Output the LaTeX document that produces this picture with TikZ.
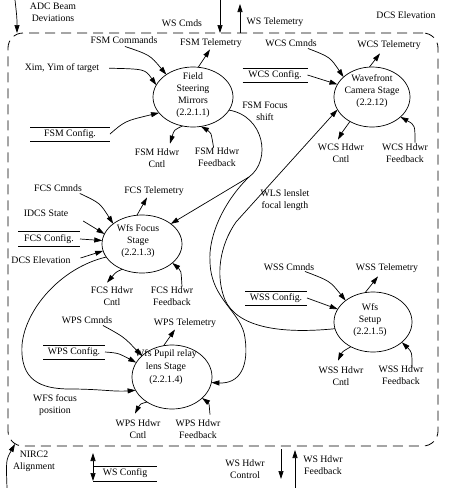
\documentclass[tikz,border=0pt]{standalone}
\usepackage{fontspec}
\setmainfont{Liberation Serif}
\usetikzlibrary{arrows.meta,shapes.geometric,calc}
\begin{document}
\begin{tikzpicture}[x=1pt,y=-1pt,
  every node/.style={font=\fontsize{9.8}{11.8}\selectfont, inner sep=0pt, outer sep=0pt, align=center},
  proc/.style={ellipse, draw, line width=0.7pt},
  store/.style={minimum height=14pt},
  arr/.style={-{Triangle[length=8pt,width=5pt]}, line width=0.7pt},
  dbl/.style={{Triangle[length=8pt,width=5pt]}-{Triangle[length=8pt,width=5pt]}, line width=0.7pt},
  ln/.style={line width=0.7pt},
  bnd/.style={draw, dash pattern=on 10pt off 6pt, line width=0.8pt, rounded corners=15pt}
]
\useasboundingbox (0,0) rectangle (449,488);
\node[bnd, minimum width=430pt, minimum height=413pt] (ws) at (223,239.5) {};

% outside
\node (adc) at (53,12) {ADC Beam\\Deviations};
\node (wscmds) at (182,23) {WS Cmds};
\node (wstel) at (275,22) {WS Telemetry};
\node (dcstop) at (406,15) {DCS Elevation};
\node (nirc) at (34,461) {NIRC2\\Alignment};
\node[minimum width=64pt, minimum height=15pt] (wscfg) at (125,473.5) {WS Config};
\draw[ln] (wscfg.north west) -- (wscfg.north east) (wscfg.south west) -- (wscfg.south east);
\node (wshc) at (245,469) {WS Hdwr\\Control};
\node (wshf) at (323,465) {WS Hdwr\\Feedback};

\coordinate (adcsrc) at (15,0);
\draw[arr] (adcsrc) .. controls (17,18) .. ($(ws.north west)+(9,0)$);
\coordinate (wscsrc) at (220,0);
\draw[arr] (wscsrc) -- (wscsrc |- ws.north);
\coordinate (wstdst) at (240,4);
\draw[arr] (wstdst |- ws.north) -- (wstdst);
\coordinate (nircsrc) at (7,488);
\draw[arr] (nircsrc) .. controls (6,460) .. ($(ws.south west)+(7,-2)$);
\draw[dbl] ($(wscfg.north west)+(0,-13)$) -- (wscfg.south west);
\coordinate (whcsrc) at (281,449);
\coordinate (whcdst) at (281,479);
\draw[arr] (whcsrc) -- (whcdst);
\coordinate (whfsrc) at (295,488);
\coordinate (whfdst) at (295,450);
\draw[arr] (whfsrc) -- (whfdst);

% processes
\node[proc, minimum width=80pt, minimum height=60pt] (fsm) at (193,97) {};
\node (fsmt) at (193,95) {Field\\Steering\\Mirrors\\(2.2.1.1)};
\node[proc, minimum width=76pt, minimum height=60pt] (wcs) at (372,97) {};
\node (wcst) at (372,91) {Wavefront\\Camera Stage\\(2.2.12)};
\node[proc, minimum width=80pt, minimum height=58pt] (fcs) at (142,244) {};
\node (fcst) at (138,241) {Wfs Focus\\Stage\\(2.2.1.3)};
\node[proc, minimum width=80pt, minimum height=64pt] (wps) at (172,377) {};
\node (wpst) at (166,367) {Wfs Pupil relay\\[1.5pt]lens Stage\\[1.5pt](2.2.1.4)};
\node[proc, minimum width=78pt, minimum height=60pt] (wss) at (373,322) {};
\node (wsst) at (370,320) {Wfs\\Setup\\(2.2.1.5)};

% FSM
\node (fsmcmd) at (124,40) {FSM Commands};
\node (fsmtel) at (211,43) {FSM Telemetry};
\node (xim) at (62,68) {Xim, Yim of target};
\node[store, minimum width=80pt] (fsmcfg) at (70,134) {FSM Config.};
\draw[ln] (fsmcfg.north west) -- (fsmcfg.north east) (fsmcfg.south west) -- (fsmcfg.south east);
\node (fsmhc) at (157,158) {FSM Hdwr\\Cntl};
\node (fsmhf) at (217,157) {FSM Hdwr\\Feedback};
\draw[arr] ($(fsmcmd.south)+(1,3)$) .. controls (150,55) .. (fsm.140);
\draw[arr] (fsm.80) -- ($(fsmtel.south)+(-1,2)$);
\draw[arr, shorten <=10pt] (xim.east) .. controls (145,69) .. (fsm.162);
\draw[arr] (fsmcfg.east) .. controls (125,121) .. (fsm.205);
\draw[arr] (fsm.250) .. controls (174,130) .. ($(fsmhc.north)+(13,-5)$);
\draw[arr] (fsmhf.110) .. controls (211,132) .. (fsm.-75);

% WCS
\node (wcscmd) at (291,43) {WCS Cmnds};
\node (wcstel) at (389,45) {WCS Telemetry};
\node[store, minimum width=65pt] (wcscfg) at (275,75) {WCS Config.};
\draw[ln] (wcscfg.north west) -- (wcscfg.north east) (wcscfg.south west) -- (wcscfg.south east);
\node (wcshc) at (341,153) {WCS Hdwr\\Cntl};
\node (wcshf) at (405,153) {WCS Hdwr\\Feedback};
\draw[arr] ($(wcscmd.south)+(17,2)$) .. controls (330,57) .. (wcs.145);
\draw[arr] (wcs.95) -- ($(wcstel.south)+(-9,4)$);
\draw[arr] (wcscfg.east) -- (wcs.160);
\draw[arr] (wcs.228) .. controls (345,127) .. ($(wcshc.north)+(-3,-4)$);
\draw[arr] ($(wcshf.north)+(10,-1)$) .. controls (415,125) .. (wcs.-35);

% FCS
\node (fcscmd) at (58,188) {FCS Cmnds};
\node (fcstel) at (154,191) {FCS Telemetry};
\node (idcs) at (46,213) {IDCS State};
\node[store, minimum width=62pt, minimum height=15pt] (fcscfg) at (49,239) {FCS Config.};
\draw[ln] (fcscfg.north west) -- (fcscfg.north east) (fcscfg.south west) -- (fcscfg.south east);
\node (dcs) at (41,260) {DCS Elevation};
\node (fcshc) at (112,296) {FCS Hdwr\\Cntl};
\node (fcshf) at (172,296) {FCS Hdwr\\Feedback};
\draw[arr] ($(fcscmd.south east)+(-2,2)$) .. controls (100,203) .. (fcs.145);
\draw[arr] (fcs.100) -- ($(fcstel.south)+(-7,2)$);
\draw[arr] ($(idcs.east)+(15,8)$) -- (fcs.165);
\draw[arr] (fcscfg.east) -- (fcs.175);
\draw[arr] ($(dcs.east)+(10,-2)$) -- (fcs.190);
\draw[arr] (fcs.232) .. controls (116,272) .. ($(fcshc.north)+(-5,-4)$);
\draw[arr] ($(fcshf.north)+(10,0)$) .. controls (181,270) .. (fcs.-32);

% WPS
\node (wpscmd) at (87,320) {WPS Cmnds};
\node (wpstel) at (185,323) {WPS Telemetry};
\node[store, minimum width=62pt] (wpscfg) at (74,352) {WPS Config.};
\draw[ln] (wpscfg.north west) -- (wpscfg.north east) (wpscfg.south west) -- (wpscfg.south east);
\node (wpshc) at (138,429) {WPS Hdwr\\Cntl};
\node (wpshf) at (198,429) {WPS Hdwr\\Feedback};
\draw[arr] ($(wpscmd.south)+(16,2)$) .. controls (124,337) .. (wps.145);
\draw[arr] (wps.105) -- ($(wpstel.south)+(-10,2)$);
\draw[arr] (wpscfg.east) .. controls (118,353) .. (wps.158);
\draw[arr] (wps.225) .. controls (140,404) .. ($(wpshc.north)+(-3,-6)$);
\draw[arr] ($(wpshf.north)+(12,-5)$) .. controls (209,403) .. (wps.-35);

% WSS
\node (wsscmd) at (289,267) {WSS Cmnds};
\node (wsstel) at (387,268) {WSS Telemetry};
\node[store, minimum width=62pt] (wsscfg) at (276,298) {WSS Config.};
\draw[ln] (wsscfg.north west) -- (wsscfg.north east) (wsscfg.south west) -- (wsscfg.south east);
\node (wsshc) at (341,376) {WSS Hdwr\\Cntl};
\node (wsshf) at (401,375) {WSS Hdwr\\Feedback};
\draw[arr] ($(wsscmd.south)+(16,1)$) .. controls (330,281) .. (wss.142);
\draw[arr] (wss.105) -- ($(wsstel.south)+(-9,4)$);
\draw[arr] (wsscfg.east) -- (wss.160);
\draw[arr] (wss.228) .. controls (342,352) .. ($(wsshc.north)+(-3,-6)$);
\draw[arr] ($(wsshf.north)+(11,2)$) .. controls (412,352) .. (wss.-35);

% big flows
\node (fsmfs) at (265,111) {FSM Focus\\shift};
\node (wls) at (285,200) {WLS lenslet\\focal length};
\node (wfsfp) at (55,405) {WFS focus\\position};
\coordinate (fork) at (249,177);
\draw[ln] (fsm.-20) .. controls (264,116) and (272,160) .. (fork);
\draw[arr] (fork) -- (fcs.35);
\draw[arr] (fork) .. controls (225,200) and (208,235) .. (210,262)
  .. controls (211,300) and (242,312) .. (245,338)
  .. controls (249,366) and (240,384) .. (wps.-8);
\draw[arr] (wss.190) .. controls (282,334) and (238,328) .. (225,300)
  .. controls (215,275) and (220,245) .. (236,222) -- (wcs.200);
\draw[arr] (fcs.200) .. controls (60,268) and (25,310) .. (22,345)
  .. controls (20,380) and (40,389) .. (70,389)
  .. controls (100,389) and (115,392) .. (wps.200);
\end{tikzpicture}
\end{document}
